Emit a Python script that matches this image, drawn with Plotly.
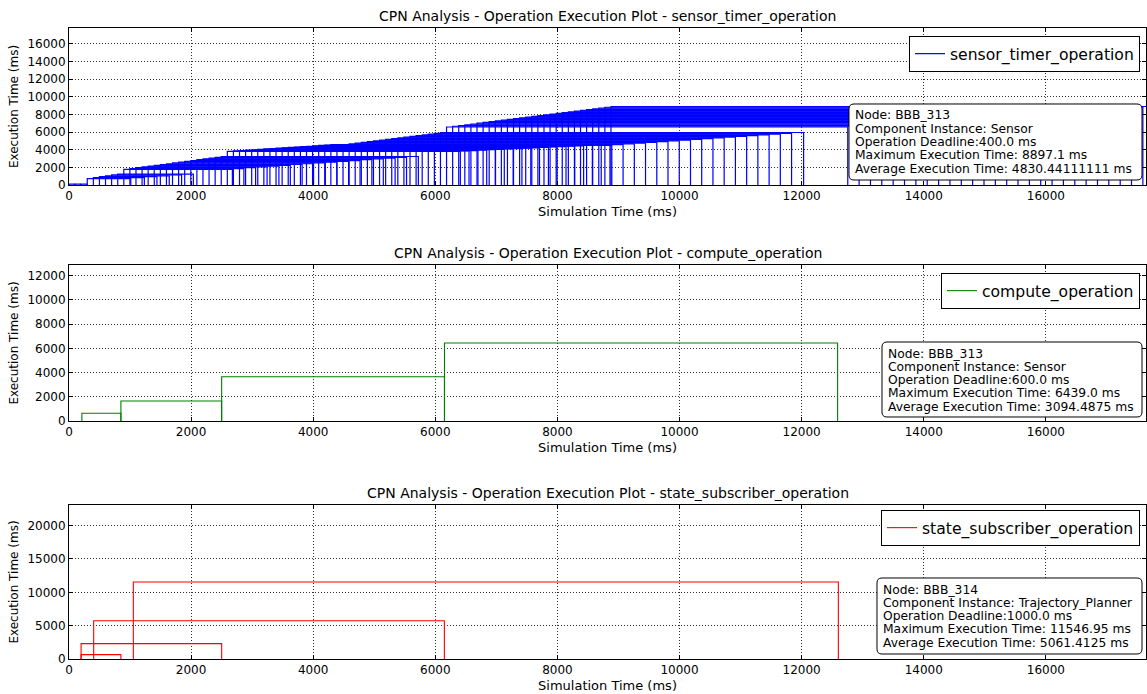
import plotly.graph_objects as go

# ---------------- data ----------------
sensor_start = [
    0.0, 99.8, 199.5, 299.3, 398.9, 498.6, 598.4, 698.1, 797.9, 897.6,
    997.4, 1097.1, 1196.8, 1296.6, 1396.3, 1496.1, 1595.8, 1695.5, 1795.3, 1895.0,
    1994.8, 2094.5, 2194.2, 2294.0, 2393.7, 2493.5, 2593.2, 2692.9, 2792.7, 2892.4,
    2992.2, 3091.9, 3191.6, 3291.4, 3391.1, 3490.9, 3590.6, 3690.3, 3790.1, 3889.8,
    3989.6, 4089.3, 4189.0, 4288.8, 4388.5, 4488.3, 4588.0, 4687.7, 4787.5, 4887.2,
    4987.0, 5086.7, 5186.4, 5286.2, 5385.9, 5485.7, 5585.4, 5685.1, 5784.9, 5884.6,
    5984.4, 6084.1, 6183.8, 6283.6, 6383.3, 6483.1, 6582.8, 6682.5, 6782.3, 6882.0,
    6981.8, 7081.5, 7181.2, 7281.0, 7380.7, 7480.5, 7580.2, 7679.9, 7779.7, 7879.4,
    7979.2, 8078.9, 8178.6, 8278.4, 8378.1, 8477.9, 8577.6, 8677.3, 8777.1, 8876.8,
]
sensor_exec = [
    92.4, 88.7, 90.1, 712.5, 835.2, 941.8, 1043.6, 1146.3, 1238.9, 1778.4,
    1866.9, 1959.2, 2047.5, 2141.3, 2228.7, 2322.4, 2409.6, 2503.1, 2591.8, 2684.5,
    2772.3, 2866.0, 2953.6, 3047.2, 3134.9, 3228.5, 3816.6, 3859.2, 3905.5, 3948.8,
    3994.1, 4037.7, 4083.4, 4126.9, 4172.3, 4215.6, 4261.2, 4304.8, 4350.1, 4393.7,
    4439.3, 4482.6, 4528.2, 4571.5, 4502.3, 4586.9, 4671.4, 4755.2, 4839.8, 4923.5,
    5008.1, 5092.7, 5176.4, 5261.0, 5344.8, 5429.3, 5513.9, 5597.6, 5682.2, 5766.0,
    5850.5, 5947.9, 6571.4, 6657.3, 6743.9, 6829.6, 6916.2, 7002.1, 7088.5, 7174.8,
    7261.0, 7347.2, 7433.6, 7519.4, 7605.9, 7691.7, 7778.2, 7864.0, 7950.5, 8036.3,
    8122.8, 8208.6, 8295.1, 8380.9, 8467.3, 8553.2, 8639.6, 8725.4, 8811.7, 8897.1,
]
compute_start = [211.0, 850.0, 2500.0, 6150.0]
compute_exec = [638.95, 1650.0, 3650.0, 6439.0]
state_start = [198.0, 198.0, 404.0, 1054.0]
state_exec = [652.0, 2302.5, 5744.2, 11546.95]

names = ["sensor_timer_operation", "compute_operation", "state_subscriber_operation"]
colors = ["#0000ff", "#008000", "#ff0000"]
info_texts = [
    ["Node: BBB_313", "Component Instance: Sensor", "Operation Deadline:400.0 ms",
     "Maximum Execution Time: 8897.1 ms", "Average Execution Time: 4830.44111111 ms"],
    ["Node: BBB_313", "Component Instance: Sensor", "Operation Deadline:600.0 ms",
     "Maximum Execution Time: 6439.0 ms", "Average Execution Time: 3094.4875 ms"],
    ["Node: BBB_314", "Component Instance: Trajectory_Planner", "Operation Deadline:1000.0 ms",
     "Maximum Execution Time: 11546.95 ms", "Average Execution Time: 5061.4125 ms"],
]
x_ticks = [0, 2000, 4000, 6000, 8000, 10000, 12000, 14000, 16000]
y_ticks = [
    [0, 2000, 4000, 6000, 8000, 10000, 12000, 14000, 16000],
    [0, 2000, 4000, 6000, 8000, 10000, 12000],
    [0, 5000, 10000, 15000, 20000],
]
x_max = 17640
y_max = [17794.2, 12878.0, 23093.9]

# ---------------- figure ----------------
W, H = 1147, 694
ML, MR, MT, MB = 69, 1, 28, 35
PH = H - MT - MB
PW = W - ML - MR


def fy(p):
    return (H - MB - p) / PH


def fx(p):
    return (p - ML) / PW


def rounded_box(x0, y0, x1, y1, r):
    pts = [
        ("M", [(x0 + r, y0)]), ("L", [(x1 - r, y0)]), ("Q", [(x1, y0), (x1, y0 + r)]),
        ("L", [(x1, y1 - r)]), ("Q", [(x1, y1), (x1 - r, y1)]),
        ("L", [(x0 + r, y1)]), ("Q", [(x0, y1), (x0, y1 - r)]),
        ("L", [(x0, y0 + r)]), ("Q", [(x0, y0), (x0 + r, y0)]),
    ]
    s = ""
    for cmd, ps in pts:
        s += cmd + " " + " ".join(f"{fx(a):.5f},{fy(b):.5f}" for a, b in ps) + " "
    return s + "Z"


domains = [[fy(185), fy(28)], [fy(421), fy(265)], [fy(659), fy(505)]]
legend_tops = [36, 273, 510]
boxes = [(849, 104, 1142, 180), (882, 342, 1142, 417), (877, 578, 1142, 654)]
line_widths = [1.2, 1.1, 1.1]

fig = go.Figure()
series = [(sensor_start, sensor_exec), (compute_start, compute_exec), (state_start, state_exec)]
FONT = "DejaVu Sans"

for k, (st, ex) in enumerate(series):
    xs, ys = [], []
    for s, h in zip(st, ex):
        xs += [s, s, s + h, s + h, None]
        ys += [0, h, h, 0, None]
    sfx = "" if k == 0 else str(k + 1)
    fig.add_trace(go.Scatter(
        x=xs, y=ys, mode="lines", name=names[k],
        line=dict(color=colors[k], width=line_widths[k]),
        xaxis="x" + sfx, yaxis="y" + sfx,
        legend="legend" + sfx, showlegend=True, connectgaps=False,
    ))
    common = dict(
        showline=True, linecolor="black", linewidth=1, mirror="ticks",
        ticks="inside", ticklen=4, tickcolor="black",
        showgrid=True, gridcolor="#333333", griddash="1px,2px", gridwidth=0.7,
        zeroline=False, tickfont=dict(family=FONT, size=12, color="black"),
    )
    fig.layout["xaxis" + sfx] = dict(
        common, domain=[0, 1], range=[0, x_max], tickvals=x_ticks,
        ticktext=[str(v) for v in x_ticks], anchor="y" + sfx,
        title=dict(text="Simulation Time (ms)", font=dict(family=FONT, size=13, color="black"), standoff=4),
    )
    fig.layout["yaxis" + sfx] = dict(
        common, domain=domains[k], range=[0, y_max[k]], tickvals=y_ticks[k],
        ticktext=[str(v) for v in y_ticks[k]], anchor="x" + sfx,
        title=dict(text="Execution Time (ms)", font=dict(family=FONT, size=12, color="black"), standoff=6),
    )
    fig.layout["legend" + sfx] = dict(
        x=fx(1140), y=fy(legend_tops[k]), xanchor="right", yanchor="top",
        bordercolor="black", borderwidth=1, bgcolor="white",
        font=dict(family=FONT, size=15.6, color="black"),
        itemwidth=30,
    )
    fig.add_annotation(
        text="CPN Analysis - Operation Execution Plot - " + names[k],
        xref="paper", yref="paper", x=0.5, y=domains[k][1], yshift=2,
        xanchor="center", yanchor="bottom", showarrow=False,
        font=dict(family=FONT, size=14, color="black"),
    )
    bx0, by0, bx1, by1 = boxes[k]
    fig.add_shape(
        type="path", path=rounded_box(bx0, by0, bx1, by1, 5),
        xref="paper", yref="paper", layer="above",
        line=dict(color="black", width=1), fillcolor="white",
    )
    for j, line in enumerate(info_texts[k]):
        cy = by0 + 11.5 + j * 13.3
        fig.add_annotation(
            text=line, xref="paper", yref="paper", x=fx(bx0 + 4), y=fy(cy),
            xanchor="left", yanchor="middle", showarrow=False, align="left",
            font=dict(family=FONT, size=12.3, color="black"),
        )

fig.update_layout(
    width=W, height=H, margin=dict(l=ML, r=MR, t=MT, b=MB, pad=0),
    plot_bgcolor="white", paper_bgcolor="white",
    font=dict(family=FONT, color="black"),
)
fig.write_html(
    "out.html",
    config={"displayModeBar": False},
    post_script="document.body.style.margin='0px';document.body.style.padding='0px';"
                "document.documentElement.style.overflow='hidden';",
)
